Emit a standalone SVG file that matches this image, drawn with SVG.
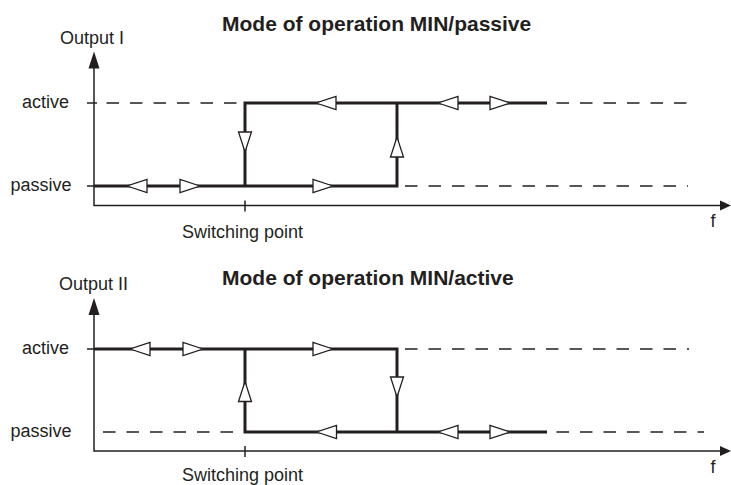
<svg xmlns="http://www.w3.org/2000/svg" xmlns:xlink="http://www.w3.org/1999/xlink" width="731" height="485" viewBox="0 0 731 485">
<style>
text { font-family: "Liberation Sans", Arial, sans-serif; fill: #231f20; }
.lbl { font-size: 18px; }
.title { font-size: 21px; font-weight: bold; }
.axis { stroke: #231f20; stroke-width: 1.5; fill: none; }
.thick { stroke: #231f20; stroke-width: 3; fill: none; }
.dash { stroke: #231f20; stroke-width: 1.3; fill: none; stroke-dasharray: 12.5 11; }
.tri { fill: #ffffff; stroke: #231f20; stroke-width: 1.3; stroke-linejoin: miter; }
.head { fill: #231f20; stroke: none; }
</style>
<defs>
<path id="tri" class="tri" d="M0,0 L-20,-6.5 L-20,6.5 Z"/>
</defs>
<rect width="731" height="485" fill="#ffffff"/>

<g id="chart1">
  <g id="chart1-labels">
    <text class="title" x="222" y="31">Mode of operation MIN/passive</text>
    <text class="lbl" x="60" y="43.5">Output I</text>
    <text class="lbl" x="22" y="108">active</text>
    <text class="lbl" x="10.5" y="191">passive</text>
    <text class="lbl" x="242.5" y="238" text-anchor="middle">Switching point</text>
    <text class="lbl" x="713" y="227" text-anchor="middle">f</text>
  </g>
  <g id="chart1-axes">
    <path class="axis" d="M94,62 V205.5 H722"/>
    <path class="head" d="M94,51.5 L88.5,68.5 L99.5,68.5 Z"/>
    <path class="head" d="M731,205.5 L720,200.5 L720,210.5 Z"/>
    <path class="axis" d="M245,200.5 V211.5"/>
    <path class="axis" d="M87,103 H97"/>
    <path class="axis" d="M87,186 H94"/>
  </g>
  <g id="chart1-connectors">
    <path class="dash" d="M106.5,103 H243"/>
    <path class="dash" d="M556.5,103 H689"/>
    <path class="dash" d="M405,186 H688"/>
    <path class="thick" d="M94,186 H397 V103"/>
    <path class="thick" d="M245,186 V103 H547"/>
    <use href="#tri" transform="translate(127,186) rotate(180)"/>
    <use href="#tri" transform="translate(200,186)"/>
    <use href="#tri" transform="translate(333,186)"/>
    <use href="#tri" transform="translate(316,103) rotate(180)"/>
    <use href="#tri" transform="translate(438,103) rotate(180)"/>
    <use href="#tri" transform="translate(510,103)"/>
    <use href="#tri" transform="translate(245,152) rotate(90)"/>
    <use href="#tri" transform="translate(397,137) rotate(-90)"/>
  </g>
</g>

<g id="chart2">
  <g id="chart2-labels">
    <text class="title" x="222" y="285">Mode of operation MIN/active</text>
    <text class="lbl" x="59" y="290">Output II</text>
    <text class="lbl" x="22" y="354">active</text>
    <text class="lbl" x="10.5" y="437">passive</text>
    <text class="lbl" x="242.5" y="480.5" text-anchor="middle">Switching point</text>
    <text class="lbl" x="713" y="473" text-anchor="middle">f</text>
  </g>
  <g id="chart2-axes">
    <path class="axis" d="M94,308 V451 H722"/>
    <path class="head" d="M94,298 L88.5,315 L99.5,315 Z"/>
    <path class="head" d="M731,451 L720,446 L720,456 Z"/>
    <path class="axis" d="M245,446 V457"/>
    <path class="axis" d="M87,349 H94"/>
  </g>
  <g id="chart2-connectors">
    <path class="dash" d="M103,432 H243"/>
    <path class="dash" d="M405,349 H689"/>
    <path class="dash" d="M556.5,432 H704"/>
    <path class="thick" d="M94,349 H397 V432"/>
    <path class="thick" d="M245,349 V432 H547"/>
    <use href="#tri" transform="translate(130,349) rotate(180)"/>
    <use href="#tri" transform="translate(203,349)"/>
    <use href="#tri" transform="translate(333,349)"/>
    <use href="#tri" transform="translate(316.5,432) rotate(180)"/>
    <use href="#tri" transform="translate(438,432) rotate(180)"/>
    <use href="#tri" transform="translate(510,432)"/>
    <use href="#tri" transform="translate(245,381.5) rotate(-90)"/>
    <use href="#tri" transform="translate(397,397) rotate(90)"/>
  </g>
</g>
</svg>
